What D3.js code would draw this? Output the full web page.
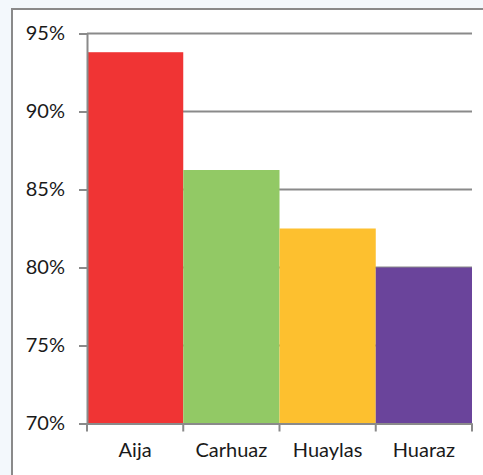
<!DOCTYPE html>
<html>
<head>
<meta charset="utf-8">
<script src="https://cdn.jsdelivr.net/npm/d3@7"></script>
<style>
  body { margin: 0; background: #f3f8fc; }
  svg { display: block; }
</style>
</head>
<body>
<div id="dataviz"></div>
<script>
var provinces = ["Aija", "Carhuaz", "Huaylas", "Huaraz"];
var shares = [93.8, 86.25, 82.5, 80.0];
var barColors = ["#f03434", "#92c965", "#fdc02f", "#6a449b"];
var yTicks = [70, 75, 80, 85, 90, 95];

var width = 483;
var height = 475;
var margin = { top: 33.5, right: 11, bottom: 51.5, left: 87 };

var svg = d3.select("#dataviz")
    .append("svg")
    .attr("width", width)
    .attr("height", height);

// chart frame (runs off the right and bottom edges)
svg.append("rect")
    .attr("x", 12)
    .attr("y", 9)
    .attr("width", 500)
    .attr("height", 500)
    .style("fill", "#fff")
    .style("stroke", "#8a8a8a")
    .style("stroke-width", 2);

var x = d3.scaleBand()
    .domain(provinces)
    .range([margin.left, width - margin.right])
    .padding(0);

var y = d3.scaleLinear()
    .domain([70, 95])
    .range([height - margin.bottom, margin.top]);

// gridlines
svg.append("g")
    .selectAll("line")
    .data(yTicks.slice(1))
    .enter().append("line")
    .attr("x1", margin.left)
    .attr("x2", width - margin.right)
    .attr("y1", d => y(d))
    .attr("y2", d => y(d))
    .style("stroke", "#8a8a8a")
    .style("stroke-width", 2);

svg.append("g")
    .selectAll("rect")
    .data(provinces)
    .enter().append("rect")
    .attr("x", d => x(d))
    .attr("y", (d, i) => y(shares[i]))
    .attr("width", x.bandwidth())
    .attr("height", (d, i) => y(70) - y(shares[i]))
    .style("fill", (d, i) => barColors[i]);

var yAxis = svg.append("g")
    .attr("transform", `translate(${margin.left},0)`)
    .call(d3.axisLeft(y).tickValues(yTicks).tickSize(8).tickPadding(14).tickFormat(d => d + "%"));

var xAxis = svg.append("g")
    .attr("transform", `translate(0,${y(70)})`)
    .call(d3.axisBottom(x).tickSize(0).tickPadding(19));

// category boundary ticks
xAxis.selectAll(".bound")
    .data(d3.range(provinces.length + 1))
    .enter().append("line")
    .attr("class", "bound")
    .attr("x1", i => margin.left + i * x.bandwidth())
    .attr("x2", i => margin.left + i * x.bandwidth())
    .attr("y1", 0)
    .attr("y2", 8)
    .style("stroke", "#8a8a8a")
    .style("stroke-width", 2);

svg.selectAll(".domain").style("stroke", "#8a8a8a").style("stroke-width", 2);
svg.selectAll(".tick line").style("stroke", "#8a8a8a").style("stroke-width", 2);
svg.selectAll(".tick text")
    .style("font-family", "Lato, 'Open Sans', sans-serif")
    .style("font-size", "20px")
    .style("fill", "#1a1a1a");
</script>
</body>
</html>
